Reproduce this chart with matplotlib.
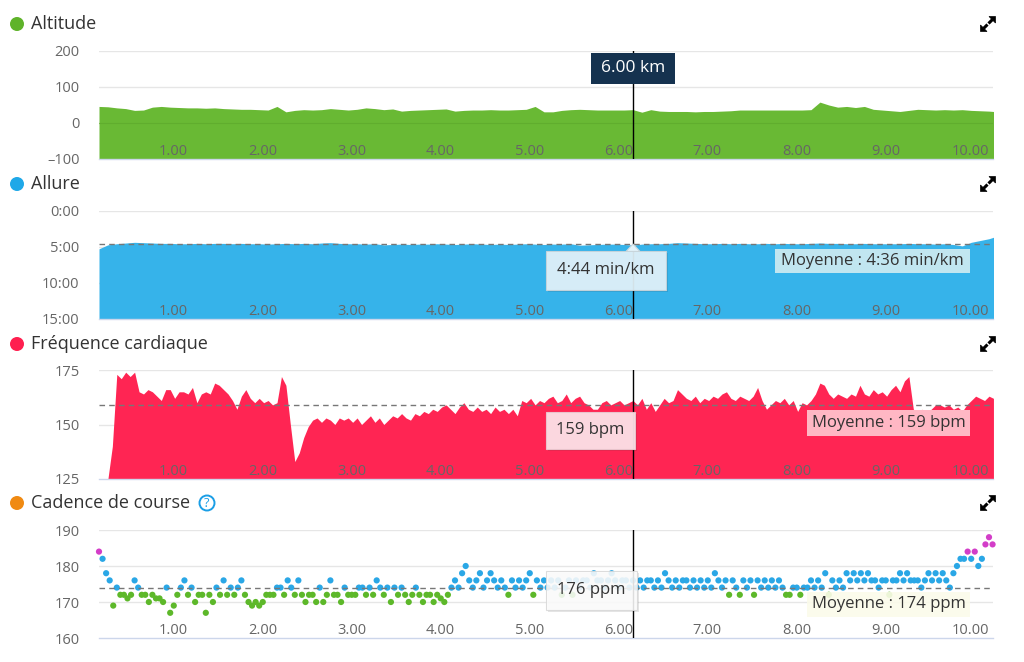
import numpy as np
import matplotlib
matplotlib.use("Agg")
import matplotlib.pyplot as plt
from matplotlib.patches import Rectangle, Circle, Polygon


W, H = 1024, 662
X_MAX = 10.045
CURSOR_KM = 6.0

KM_TICKS = [1, 2, 3, 4, 5, 6, 7, 8, 9, 10]
KM_LABELS = ["1.00", "2.00", "3.00", "4.00", "5.00", "6.00", "7.00", "8.00", "9.00", "10.00"]

# altitude (m), one sample every 0.1 km from 0.0
ALT_STEP = 0.1
ALTITUDE = [
    46, 45, 42, 40, 35, 36, 44, 46, 44, 43,
    42, 42, 41, 42, 40, 39, 38, 38, 37, 36,
    46, 31, 35, 37, 36, 37, 40, 38, 36, 38,
    42, 40, 37, 39, 33, 35, 36, 37, 38, 39,
    33, 35, 36, 36, 37, 36, 36, 37, 38, 46,
    31, 31, 35, 37, 38, 37, 36, 36, 36, 36,
    37, 30, 37, 33, 32, 32, 32, 31, 32, 32,
    33, 34, 36, 36, 36, 36, 36, 36, 36, 36,
    37, 58, 50, 44, 46, 43, 46, 38, 36, 34,
    32, 35, 38, 37, 36, 37, 36, 37, 35, 34,
    33, 31,
]
ALT_TICKS = [-100, 0, 100, 200]
ALT_LABELS = ["\u2013100", "0", "100", "200"]

# pace (min/km), one sample every 0.1 km from 0.0
PACE_STEP = 0.1
PACE = [
    5.25, 4.70, 4.55, 4.45, 4.35, 4.40, 4.45, 4.50, 4.50, 4.55,
    4.55, 4.50, 4.55, 4.50, 4.50, 4.55, 4.50, 4.55, 4.55, 4.60,
    4.55, 4.50, 4.55, 4.50, 4.55, 4.45, 4.40, 4.50, 4.55, 4.55,
    4.60, 4.55, 4.70, 4.65, 4.60, 4.65, 4.60, 4.60, 4.55, 4.60,
    4.65, 4.60, 4.55, 4.60, 4.65, 4.60, 4.65, 4.60, 4.55, 4.60,
    4.65, 4.60, 4.60, 4.55, 4.75, 4.70, 4.65, 4.60, 4.60, 4.65,
    4.73, 4.60, 4.55, 4.55, 4.50, 4.40, 4.45, 4.50, 4.55, 4.55,
    4.50, 4.55, 4.50, 4.55, 4.55, 4.50, 4.55, 4.50, 4.55, 4.55,
    4.50, 4.45, 4.50, 4.50, 4.55, 4.55, 4.50, 4.55, 4.55, 4.55,
    4.55, 4.50, 4.55, 4.55, 4.60, 4.55, 4.65, 4.85, 4.35, 4.10,
    3.85, 3.45,
]
PACE_AVG = 4.6
PACE_TICKS = [0, 5, 10, 15]
PACE_LABELS = ["0:00", "5:00", "10:00", "15:00"]

# heart rate (bpm), one sample every 0.05 km from 0.10
HR_START = 0.10
HR_STEP = 0.05
HEART_RATE = [
    125, 140, 173, 171, 174, 172, 174, 165, 164, 166,
    165, 163, 161, 166, 166, 162, 165, 165, 164, 167,
    160, 164, 165, 164, 169, 168, 166, 164, 161, 157,
    163, 166, 162, 160, 162, 160, 161, 159, 160, 172,
    168, 150, 133, 137, 144, 149, 152, 153, 151, 153,
    152, 150, 153, 152, 153, 151, 153, 150, 152, 154,
    151, 153, 150, 152, 154, 153, 155, 153, 152, 155,
    154, 156, 155, 157, 156, 158, 159, 157, 155, 158,
    160, 157, 156, 158, 156, 157, 155, 158, 156, 157,
    155, 157, 154, 161, 160, 162, 159, 161, 160, 162,
    163, 160, 161, 164, 160, 162, 163, 160, 159, 157,
    157, 160, 161, 159, 160, 161, 159, 160, 161, 159,
    162, 157, 160, 156, 159, 162, 160, 161, 166, 164,
    162, 161, 163, 160, 162, 161, 163, 162, 164, 165,
    162, 161, 163, 162, 161, 163, 167, 161, 157, 159,
    161, 160, 162, 159, 161, 156, 160, 159, 161, 164,
    169, 168, 164, 162, 164, 163, 162, 164, 163, 168,
    164, 163, 166, 164, 165, 163, 166, 168, 165, 170,
    172, 157, 156, 157, 155, 157, 159, 159, 158, 159,
    157, 158, 156, 159, 161, 163, 162, 161, 163, 162,
]
HR_AVG = 159
HR_TICKS = [125, 150, 175]

# running cadence (ppm), one sample every 0.04 km from 0.0
CAD_STEP = 0.04
CADENCE = [
    184, 182, 178, 176, 169, 174, 172, 172, 171, 172, 176, 174, 172, 172, 170, 172, 171, 171, 170, 174, 167, 169, 172, 174, 176,
    172, 174, 170, 172, 172, 167, 172, 170, 174, 172, 176, 172, 174, 172, 174, 176, 172, 170, 169, 170, 169, 170, 172, 172, 172,
    174, 174, 172, 176, 174, 172, 176, 172, 170, 172, 172, 170, 174, 170, 172, 176, 172, 172, 170, 174, 172, 172, 172, 174, 174,
    172, 174, 172, 176, 174, 172, 174, 170, 174, 172, 174, 172, 170, 172, 174, 172, 170, 172, 172, 170, 172, 171, 170, 172, 174,
    176, 174, 178, 180, 176, 174, 176, 178, 174, 176, 178, 176, 174, 176, 174, 172, 176, 174, 176, 174, 176, 178, 172, 176, 174,
    176, 174, 176, 174, 176, 172, 174, 176, 172, 176, 174, 176, 176, 174, 178, 176, 176, 174, 176, 178, 176, 174, 176, 176, 174,
    176, 174, 176, 174, 176, 176, 174, 176, 174, 178, 176, 174, 176, 174, 176, 176, 174, 176, 174, 176, 174, 176, 174, 178, 176,
    174, 176, 172, 176, 174, 172, 176, 174, 176, 172, 176, 174, 176, 174, 176, 174, 176, 174, 172, 172, 174, 174, 172, 174, 174,
    176, 174, 176, 174, 178, 172, 176, 174, 176, 174, 178, 176, 178, 176, 178, 176, 178, 176, 176, 174, 176, 176, 172, 176, 176,
    178, 176, 178, 176, 176, 176, 174, 176, 178, 176, 178, 176, 178, 176, 174, 178, 180, 182, 182, 184, 182, 184, 180, 182, 186,
    188, 186,
]
CAD_AVG = 174
CAD_TICKS = [160, 170, 180, 190]

GREEN = "#69b934"
BLUE = "#36b3ea"
RED = "#ff2553"
CAD_GREEN = "#5db82a"
CAD_BLUE = "#2aa7e6"
CAD_PURPLE = "#d33dc8"
GRID = "#e6e6e6"
TICK_COLOR = "#666666"
TEXT = "#333333"

plt.rcParams['font.family'] = ['Open Sans', 'DejaVu Sans']


def panel(fig, top, bottom):
    return fig.add_axes([99 / W, 1 - bottom / H, (993 - 99) / W, (bottom - top) / H])


def style_axes(ax, ylim, yticks, ylabels, base):
    ax.set_xlim(0, X_MAX)
    ax.set_ylim(*ylim)
    ax.set_facecolor("none")
    for side in ["top", "right", "left"]:
        ax.spines[side].set_visible(False)
    ax.spines["bottom"].set_color("#ccd6eb")
    ax.spines["bottom"].set_linewidth(1)
    ax.set_yticks(yticks)
    ax.set_yticklabels(ylabels)
    ax.tick_params(axis="y", length=0, pad=14, labelsize=10.5, labelcolor=TICK_COLOR)
    ax.set_xticks(KM_TICKS)
    ax.set_xticklabels(KM_LABELS)
    ax.tick_params(axis="x", length=0, pad=-11, labelsize=10.5, labelcolor=TICK_COLOR)
    for lab in ax.get_xticklabels():
        lab.set_ha("right")
    for t in yticks:
        if t != base:
            ax.axhline(t, color=GRID, lw=1, zorder=0.3)
    ax.axvline(CURSOR_KM, color="black", lw=1, zorder=6)


def avg_line(ax, value):
    ax.axhline(value, color="#777777", lw=1, ls=(0, (4, 3)), zorder=4)


def box(ov, x0, y0, x1, y1, label, face, edge=None, color=TEXT, size=12, alpha=1.0, shadow=False):
    if shadow:
        ov.add_patch(Rectangle((x0 + 2, y0 + 2), x1 - x0, y1 - y0, facecolor="black",
                               alpha=0.10, lw=0))
    ov.add_patch(Rectangle((x0, y0), x1 - x0, y1 - y0, facecolor=face, alpha=alpha,
                           edgecolor=edge if edge else "none", lw=0.8 if edge else 0))
    ov.text((x0 + x1) / 2, (y0 + y1) / 2, label, ha="center", va="center",
            fontsize=size, color=color)


def expand_icon(ov, cx, cy):
    # two arrows pointing to opposite corners
    for sx, sy in [(1, -1), (-1, 1)]:
        tip = (cx + sx * 7.5, cy + sy * 7.5)
        head = [tip, (tip[0] - sx * 6.5, tip[1]), (tip[0], tip[1] - sy * 6.5)]
        ov.add_patch(Polygon(head, closed=True, facecolor="black", edgecolor="black", lw=0.5))
        ov.plot([cx + sx * 0.5, cx + sx * 4.5], [cy + sy * 0.5, cy + sy * 4.5],
                color="black", lw=2.2, solid_capstyle="butt")


def title(ov, y, label, dot_color):
    ov.add_patch(Circle((17, y), 7, facecolor=dot_color, edgecolor="none"))
    ov.text(31, y, label, ha="left", va="center", fontsize=13, color=TEXT)
    expand_icon(ov, 988, y)


def main():
    fig = plt.figure(figsize=(W / 100, H / 100), dpi=100)

    # altitude
    ax = panel(fig, 51, 159)
    km = np.arange(len(ALTITUDE)) * ALT_STEP
    ax.fill_between(km, ALTITUDE, -100, color=GREEN, lw=0, zorder=1)
    ax.axhline(0, color="#5aa62b", lw=0.8, alpha=0.6, zorder=1.2)
    style_axes(ax, (-100, 200), ALT_TICKS, ALT_LABELS, -100)

    # pace
    ax = panel(fig, 211, 319)
    km = np.arange(len(PACE)) * PACE_STEP
    ax.fill_between(km, PACE, 15, color=BLUE, lw=0, zorder=1)
    avg_line(ax, PACE_AVG)
    style_axes(ax, (15, 0), PACE_TICKS, PACE_LABELS, 15)

    # heart rate
    ax = panel(fig, 370, 479)
    km = HR_START + np.arange(len(HEART_RATE)) * HR_STEP
    ax.fill_between(km, HEART_RATE, 125, color=RED, lw=0, zorder=1)
    avg_line(ax, HR_AVG)
    style_axes(ax, (125, 175), HR_TICKS, [str(t) for t in HR_TICKS], 125)

    # cadence
    ax = panel(fig, 530, 638)
    km = np.arange(len(CADENCE)) * CAD_STEP
    cad = np.array(CADENCE)
    colors = np.where(cad > 183, CAD_PURPLE, np.where(cad >= 174, CAD_BLUE, CAD_GREEN))
    avg_line(ax, CAD_AVG)
    ax.scatter(km, cad, s=20, c=colors, lw=0, zorder=3, clip_on=False)
    style_axes(ax, (160, 190), CAD_TICKS, [str(t) for t in CAD_TICKS], 160)

    # overlay in pixel coordinates for titles and tooltips
    ov = fig.add_axes([0, 0, 1, 1])
    ov.set_xlim(0, W)
    ov.set_ylim(H, 0)
    ov.axis("off")
    ov.set_zorder(10)

    title(ov, 24, "Altitude", "#5fb32a")
    title(ov, 184, "Allure", "#1fa8e8")
    title(ov, 344, "Fr\u00e9quence cardiaque", "#ff1f4f")
    title(ov, 503, "Cadence de course", "#f08a12")
    ov.add_patch(Circle((207, 503), 7.5, facecolor="white", edgecolor="#1a9ee6", lw=1.4))
    ov.text(207, 503.5, "?", ha="center", va="center", fontsize=9, color="#1a9ee6")

    box(ov, 591, 53, 675, 84, "6.00 km", "#15324f", color="white", size=12.5)

    ov.add_patch(Polygon([(626, 251.5), (633, 244), (640, 251.5)], closed=True,
                         facecolor="#e4f3fa", edgecolor="#c8d4da", lw=0.8))
    box(ov, 546, 251, 666, 290, "4:44 min/km", "#e4f3fa", edge="#c8d4da",
        alpha=0.93, shadow=True)
    box(ov, 775, 249, 970, 273, "Moyenne : 4:36 min/km", "#c1e6f0")

    box(ov, 546, 412, 635, 449, "159 bpm", "#fde2e8", edge="#e8c8cf",
        alpha=0.95, shadow=True)
    box(ov, 807, 410, 970, 436, "Moyenne : 159 bpm", "#ffb7c4")

    box(ov, 546, 571, 637, 610, "176 ppm", "#fdfdfd", edge="#d8d8d8",
        alpha=0.88, shadow=True)
    box(ov, 807, 592, 970, 617, "Moyenne : 174 ppm", "#fbfbea", alpha=0.9)

    fig.savefig("out.png", dpi=100)
    plt.close(fig)


if __name__ == "__main__":
    main()
